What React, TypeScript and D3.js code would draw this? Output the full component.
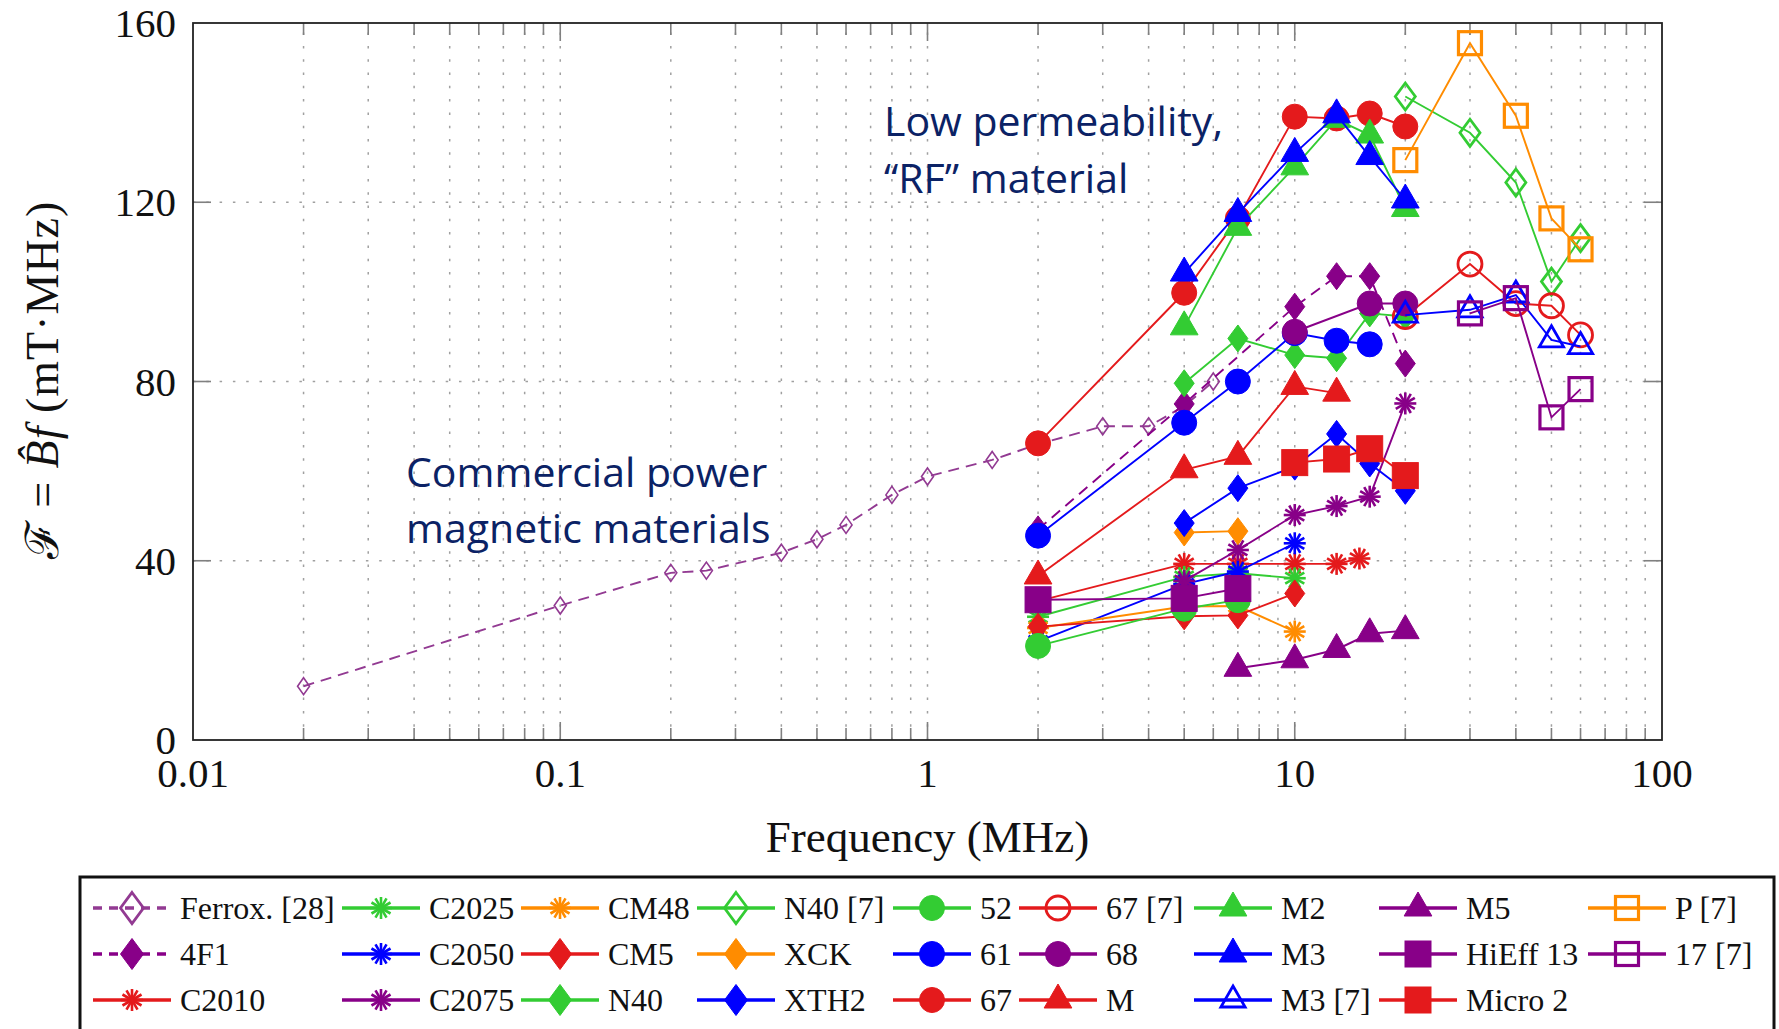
import React from 'react';
import * as d3 from 'd3';

// ---------- colours ----------
const RED = '#e41a1c';
const BLUE = '#0000ff';
const GREEN = '#33cc33';
const PURPLE = '#880088';
const ORANGE = '#ff8c00';
const NAVY = '#0b2265';

// ---------- axis ticks ----------
const xTickValues = [0.01, 0.1, 1, 10, 100];
const xTickLabels = ['0.01', '0.1', '1', '10', '100'];
const yTickValues = [0, 40, 80, 120, 160];
const yTickLabels = ['0', '40', '80', '120', '160'];

// ---------- series data (frequency MHz, F = B*f in mT*MHz) ----------
const ferroxF = [0.02, 0.1, 0.2, 0.25, 0.4, 0.5, 0.6, 0.8, 1, 1.5, 2, 3, 4, 5, 6];
const ferroxV = [12, 30, 37.3, 37.8, 41.8, 44.8, 48, 54.7, 58.8, 62.5, 66, 70, 70, 74.5, 80];
const f4F1F = [2, 5, 10, 13, 16, 20];
const f4F1V = [47, 75, 96.7, 103.5, 103.5, 84];
const c2010F = [2, 5, 7, 10, 13, 15];
const c2010V = [31, 39.3, 39.3, 39.3, 39.3, 40.5];
const c2025F = [2, 5, 7, 10];
const c2025V = [27.5, 36.4, 37.2, 36.1];
const c2050F = [2, 5, 7, 10];
const c2050V = [22, 34.8, 37.6, 43.9];
const c2075F = [5, 7, 10, 13, 16, 20];
const c2075V = [35.5, 42.4, 50.2, 52.2, 54.3, 75.1];
const cm48F = [2, 5, 7, 10];
const cm48V = [25, 29.8, 29.9, 24.2];
const cm5F = [2, 5, 7, 10];
const cm5V = [25.3, 27.6, 27.8, 32.7];
const n40F = [5, 7, 10, 13, 16, 20];
const n40V = [79.6, 89.6, 85.9, 85.2, 95.2, 94.5];
const n40refF = [20, 30, 40, 50, 60];
const n40refV = [143.6, 135.5, 124.4, 102.3, 112];
const xckF = [5, 7];
const xckV = [46.3, 46.6];
const xth2F = [5, 7, 10, 13, 16, 20];
const xth2V = [48.4, 56.2, 61, 68.3, 61.7, 55.6];
const m52F = [2, 5, 7];
const m52V = [21, 29.3, 31.2];
const m61F = [2, 5, 7, 10, 13, 16];
const m61V = [45.6, 70.8, 80, 90.8, 89.1, 88.3];
const m67F = [2, 5, 7, 10, 13, 16, 20];
const m67V = [66.2, 99.8, 116.4, 139.1, 138.7, 139.8, 136.9];
const m67refF = [20, 30, 40, 50, 60];
const m67refV = [94.5, 106.2, 97.4, 96.9, 90.4];
const m68F = [10, 16, 20];
const m68V = [91.1, 97.4, 97.4];
const mF = [2, 5, 7, 10, 13];
const mV = [36.6, 60.3, 63.3, 78.9, 77.4];
const m2F = [5, 7, 10, 13, 16, 20];
const m2V = [92.2, 114.4, 127.9, 138.5, 135, 118.6];
const m3F = [5, 7, 10, 13, 16, 20];
const m3V = [104.2, 117.5, 130.9, 139.5, 130.2, 120.5];
const m3refF = [20, 30, 40, 50, 60];
const m3refV = [94.8, 96, 99.3, 89.3, 87.8];
const m5F = [7, 10, 13, 16, 20];
const m5V = [16, 17.9, 20.2, 23.7, 24.4];
const hieffF = [2, 5, 7];
const hieffV = [31.3, 31.6, 33.8];
const micro2F = [10, 13, 16, 20];
const micro2V = [61.9, 62.7, 65, 59];
const pRefF = [20, 30, 40, 50, 60];
const pRefV = [129.4, 155.5, 139.3, 116.4, 109.5];
const m17refF = [30, 40, 50, 60];
const m17refV = [95.2, 98.6, 72, 78.3];

type MarkerType = 'circle' | 'square' | 'triangle' | 'diamond' | 'asterisk' | 'sdiamond';

interface Series {
  name: string;
  color: string;
  marker: MarkerType;
  open?: boolean;
  dashed?: boolean;
  f: number[];
  v: number[];
}

const series: Series[] = [
  { name: 'Ferrox. [28]', color: '#923a92', marker: 'sdiamond', open: true, dashed: true, f: ferroxF, v: ferroxV },
  { name: '4F1', color: PURPLE, marker: 'diamond', dashed: true, f: f4F1F, v: f4F1V },
  { name: 'C2010', color: RED, marker: 'asterisk', f: c2010F, v: c2010V },
  { name: 'C2025', color: GREEN, marker: 'asterisk', f: c2025F, v: c2025V },
  { name: 'C2050', color: BLUE, marker: 'asterisk', f: c2050F, v: c2050V },
  { name: 'C2075', color: PURPLE, marker: 'asterisk', f: c2075F, v: c2075V },
  { name: 'CM48', color: ORANGE, marker: 'asterisk', f: cm48F, v: cm48V },
  { name: 'CM5', color: RED, marker: 'diamond', f: cm5F, v: cm5V },
  { name: 'N40', color: GREEN, marker: 'diamond', f: n40F, v: n40V },
  { name: 'N40 [7]', color: GREEN, marker: 'diamond', open: true, f: n40refF, v: n40refV },
  { name: 'XCK', color: ORANGE, marker: 'diamond', f: xckF, v: xckV },
  { name: 'XTH2', color: BLUE, marker: 'diamond', f: xth2F, v: xth2V },
  { name: '52', color: GREEN, marker: 'circle', f: m52F, v: m52V },
  { name: '61', color: BLUE, marker: 'circle', f: m61F, v: m61V },
  { name: '67', color: RED, marker: 'circle', f: m67F, v: m67V },
  { name: '67 [7]', color: RED, marker: 'circle', open: true, f: m67refF, v: m67refV },
  { name: '68', color: PURPLE, marker: 'circle', f: m68F, v: m68V },
  { name: 'M', color: RED, marker: 'triangle', f: mF, v: mV },
  { name: 'M2', color: GREEN, marker: 'triangle', f: m2F, v: m2V },
  { name: 'M3', color: BLUE, marker: 'triangle', f: m3F, v: m3V },
  { name: 'M3 [7]', color: BLUE, marker: 'triangle', open: true, f: m3refF, v: m3refV },
  { name: 'M5', color: PURPLE, marker: 'triangle', f: m5F, v: m5V },
  { name: 'HiEff 13', color: PURPLE, marker: 'square', f: hieffF, v: hieffV },
  { name: 'Micro 2', color: RED, marker: 'square', f: micro2F, v: micro2V },
  { name: 'P [7]', color: ORANGE, marker: 'square', open: true, f: pRefF, v: pRefV },
  { name: '17 [7]', color: PURPLE, marker: 'square', open: true, f: m17refF, v: m17refV },
];

// ---------- layout ----------
const W = 1779;
const H = 1029;
const L = 193;
const R = 1662;
const T = 23;
const B = 740;

const xScale = d3.scaleLog().domain([0.01, 100]).range([L, R]);
const yScale = d3.scaleLinear().domain([0, 160]).range([B, T]);

const minorX: number[] = [];
[0.01, 0.1, 1, 10].forEach((d) => {
  for (let k = 2; k <= 9; k++) minorX.push(d * k);
});

function Marker({ type, color, open, x, y, s = 1 }: { type: MarkerType; color: string; open?: boolean; x: number; y: number; s?: number }) {
  const fill = open ? 'none' : color;
  const sw = open ? 2.8 : 1;
  if (type === 'circle') {
    return <circle cx={x} cy={y} r={(open ? 12 : 12.5) * s} fill={fill} stroke={color} strokeWidth={sw} />;
  }
  if (type === 'square') {
    const h = (open ? 11.5 : 13) * s;
    return <rect x={x - h} y={y - h} width={2 * h} height={2 * h} fill={fill} stroke={color} strokeWidth={open ? 3.2 : 1} />;
  }
  if (type === 'triangle') {
    const r = (open ? 14 : 16) * s;
    const pts = [[x, y - r], [x + r * 0.866, y + r * 0.5], [x - r * 0.866, y + r * 0.5]];
    return <polygon points={pts.map((p) => p.join(',')).join(' ')} fill={fill} stroke={color} strokeWidth={sw} />;
  }
  if (type === 'diamond' || type === 'sdiamond') {
    const hw = (type === 'sdiamond' ? 6 : 10) * s;
    const hh = (type === 'sdiamond' ? 8.5 : 13.5) * s;
    const pts = [[x, y - hh], [x + hw, y], [x, y + hh], [x - hw, y]];
    return (
      <polygon
        points={pts.map((p) => p.join(',')).join(' ')}
        fill={fill}
        stroke={color}
        strokeWidth={type === 'sdiamond' ? 1.6 : sw}
      />
    );
  }
  // asterisk
  const r = 11 * s;
  const lines = d3.range(6).map((i) => {
    const a = (i * Math.PI) / 6 + Math.PI / 2;
    return (
      <line
        key={i}
        x1={x - r * Math.cos(a)}
        y1={y - r * Math.sin(a)}
        x2={x + r * Math.cos(a)}
        y2={y + r * Math.sin(a)}
        stroke={color}
        strokeWidth={2.6}
      />
    );
  });
  return <g>{lines}</g>;
}

const lineGen = d3
  .line<[number, number]>()
  .x((d) => xScale(d[0]))
  .y((d) => yScale(d[1]));

// legend layout
const legendCols = [132, 381, 560, 736, 932, 1058, 1233, 1418, 1627];
const legendRows = [908, 954, 1000];

const SERIF = "'Liberation Serif', 'DejaVu Serif', serif";

export default function App() {
  return (
    <svg
      width={W}
      height={H}
      viewBox={`0 0 ${W} ${H}`}
      style={{ position: 'absolute', left: 0, top: 0, background: '#fff' }}
    >
      <rect x={0} y={0} width={W} height={H} fill="#fff" />

      {/* grid */}
      <g stroke="#a0a0a0" strokeWidth={1.5} strokeDasharray="2.5 10.8">
        {minorX.concat([0.1, 1, 10]).map((v, i) => (
          <line key={'gx' + i} x1={xScale(v)} x2={xScale(v)} y1={B} y2={T} />
        ))}
        {[40, 80, 120].map((v) => (
          <line key={'gy' + v} x1={L} x2={R} y1={yScale(v)} y2={yScale(v)} />
        ))}
      </g>

      {/* ticks */}
      <g stroke="#808080" strokeWidth={1.6}>
        {minorX.map((v, i) => (
          <g key={'mt' + i}>
            <line x1={xScale(v)} x2={xScale(v)} y1={B} y2={B - 12} />
            <line x1={xScale(v)} x2={xScale(v)} y1={T} y2={T + 12} />
          </g>
        ))}
        {[0.1, 1, 10].map((v) => (
          <g key={'Mt' + v}>
            <line x1={xScale(v)} x2={xScale(v)} y1={B} y2={B - 18} />
            <line x1={xScale(v)} x2={xScale(v)} y1={T} y2={T + 18} />
          </g>
        ))}
        {[40, 80, 120].map((v) => (
          <g key={'yt' + v}>
            <line x1={L} x2={L + 18} y1={yScale(v)} y2={yScale(v)} />
            <line x1={R} x2={R - 18} y1={yScale(v)} y2={yScale(v)} />
          </g>
        ))}
      </g>

      {/* series */}
      <g>
        {series.map((s) => {
          const pts = s.f.map((f, i) => [f, s.v[i]] as [number, number]);
          return (
            <g key={s.name}>
              <path
                d={lineGen(pts) || ''}
                fill="none"
                stroke={s.color}
                strokeWidth={1.9}
                strokeDasharray={s.dashed ? '11 7' : undefined}
              />
              {pts.map((p, i) => (
                <Marker key={i} type={s.marker} color={s.color} open={s.open} x={xScale(p[0])} y={yScale(p[1])} />
              ))}
            </g>
          );
        })}
      </g>

      {/* frame */}
      <rect x={L} y={T} width={R - L} height={B - T} fill="none" stroke="#222" strokeWidth={1.8} />

      {/* tick labels */}
      <g fontFamily={SERIF} fontSize={41} fill="#111">
        {xTickValues.map((v, i) => (
          <text key={'xl' + v} x={xScale(v)} y={787} textAnchor="middle">
            {xTickLabels[i]}
          </text>
        ))}
        {yTickValues.map((v, i) => (
          <text key={'yl' + v} x={176} y={yScale(v) + 14} textAnchor="end">
            {yTickLabels[i]}
          </text>
        ))}
      </g>

      {/* axis titles */}
      <text x={(L + R) / 2} y={852} textAnchor="middle" fontFamily={SERIF} fontSize={45} fill="#111">
        Frequency (MHz)
      </text>
      <text
        transform="translate(58,380) rotate(-90)"
        textAnchor="middle"
        fontFamily={SERIF}
        fontSize={46}
        letterSpacing={1}
        fill="#111"
      >
        <tspan fontFamily="'DejaVu Serif', serif">ℱ</tspan>
        <tspan> = </tspan>
        <tspan fontStyle="italic">B̂f</tspan>
        <tspan> (mT·MHz)</tspan>
      </text>

      {/* annotations */}
      <g fontFamily="'Open Sans', sans-serif" fontSize={41} fill={NAVY}>
        <text x={884} y={136}>Low permeability,</text>
        <text x={884} y={193}>“RF” material</text>
        <text x={406} y={487}>Commercial power</text>
        <text x={406} y={543}>magnetic materials</text>
      </g>

      {/* legend */}
      <rect x={80} y={877} width={1694} height={200} fill="#fff" stroke="#111" strokeWidth={3} />
      <g>
        {series.map((s, i) => {
          const col = Math.floor(i / 3);
          const row = i % 3;
          const cx = legendCols[col];
          const cy = legendRows[row];
          return (
            <g key={'lg' + s.name}>
              <line
                x1={cx - 39}
                x2={cx + 39}
                y1={cy}
                y2={cy}
                stroke={s.color}
                strokeWidth={3.5}
                strokeDasharray={s.dashed ? '9 7' : undefined}
              />
              {s.marker === 'sdiamond' ? (
                <Marker type="diamond" color={s.color} open x={cx} y={cy} s={1.15} />
              ) : (
                <Marker type={s.marker} color={s.color} open={s.open} x={cx} y={cy} s={s.marker === 'diamond' ? 1.15 : 1} />
              )}
              <text x={cx + 48} y={cy + 11} fontFamily={SERIF} fontSize={32} fill="#111">
                {s.name}
              </text>
            </g>
          );
        })}
      </g>
    </svg>
  );
}
